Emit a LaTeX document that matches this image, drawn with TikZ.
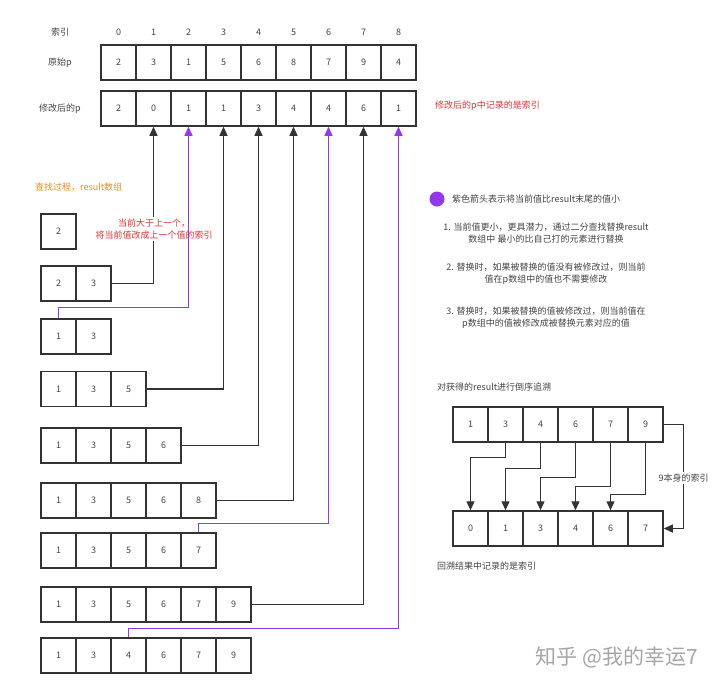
\documentclass[tikz,border=0pt]{standalone}
\usepackage{fontspec}
\setmainfont{Noto Sans CJK SC}
\usetikzlibrary{arrows.meta}
\definecolor{ink}{RGB}{51,51,51}
\definecolor{txt}{RGB}{68,68,68}
\definecolor{pur}{RGB}{150,55,240}
\definecolor{redtxt}{RGB}{222,52,52}
\definecolor{orgtxt}{RGB}{236,141,30}

\begin{document}
\begin{tikzpicture}[x=1pt,y=1pt]
\tikzstyle{every node}+=[inner sep=0pt,font=\fontsize{9}{12}\selectfont,text=txt]
\tikzstyle{cell}=[draw=ink,line width=1.5pt,minimum size=35pt]
\tikzstyle{blkline}=[draw=ink,line width=1.3pt,-{Triangle[length=9pt,width=8pt]}]
\tikzstyle{purline}=[draw=pur,line width=1.3pt,-{Triangle[length=9pt,width=8pt]}]
\useasboundingbox (0,0) rectangle (720,-691);
% row labels
\draw (60,-32) node (lidx) {索引};
\draw (60,-63) node (lorig) {原始p};
\draw (60,-108.5) node (lmod) {修改后的p};
% index
\draw (118.5,-32) node (i0) {0};
\draw (153.5,-32) node (i1) {1};
\draw (188.5,-32) node (i2) {2};
\draw (223.5,-32) node (i3) {3};
\draw (258.5,-32) node (i4) {4};
\draw (293.5,-32) node (i5) {5};
\draw (328.5,-32) node (i6) {6};
\draw (363.5,-32) node (i7) {7};
\draw (398.5,-32) node (i8) {8};
% original p
\draw (118.5,-62.5) node [cell] (o0) {2};
\draw (153.5,-62.5) node [cell] (o1) {3};
\draw (188.5,-62.5) node [cell] (o2) {1};
\draw (223.5,-62.5) node [cell] (o3) {5};
\draw (258.5,-62.5) node [cell] (o4) {6};
\draw (293.5,-62.5) node [cell] (o5) {8};
\draw (328.5,-62.5) node [cell] (o6) {7};
\draw (363.5,-62.5) node [cell] (o7) {9};
\draw (398.5,-62.5) node [cell] (o8) {4};
% modified p
\draw (118.5,-108.5) node [cell] (m0) {2};
\draw (153.5,-108.5) node [cell] (m1) {0};
\draw (188.5,-108.5) node [cell] (m2) {1};
\draw (223.5,-108.5) node [cell] (m3) {1};
\draw (258.5,-108.5) node [cell] (m4) {3};
\draw (293.5,-108.5) node [cell] (m5) {4};
\draw (328.5,-108.5) node [cell] (m6) {4};
\draw (363.5,-108.5) node [cell] (m7) {6};
\draw (398.5,-108.5) node [cell] (m8) {1};
% result rows
\draw (35,-187) node [anchor=west,text=orgtxt] (search) {查找过程，result数组};
\draw (58.5,-231.5) node [cell] (a1) {2};
\draw (58.5,-283.5) node [cell] (b1) {2};
\draw (93.5,-283.5) node [cell] (b2) {3};
\draw (58.5,-336.5) node [cell] (c1) {1};
\draw (93.5,-336.5) node [cell] (c2) {3};
\draw (58.5,-389) node [cell] (d1) {1};
\draw (93.5,-389) node [cell] (d2) {3};
\draw (128.5,-389) node [cell] (d3) {5};
\draw (58.5,-445.5) node [cell] (e1) {1};
\draw (93.5,-445.5) node [cell] (e2) {3};
\draw (128.5,-445.5) node [cell] (e3) {5};
\draw (163.5,-445.5) node [cell] (e4) {6};
\draw (58.5,-500.5) node [cell] (f1) {1};
\draw (93.5,-500.5) node [cell] (f2) {3};
\draw (128.5,-500.5) node [cell] (f3) {5};
\draw (163.5,-500.5) node [cell] (f4) {6};
\draw (198.5,-500.5) node [cell] (f5) {8};
\draw (58.5,-550.5) node [cell] (g1) {1};
\draw (93.5,-550.5) node [cell] (g2) {3};
\draw (128.5,-550.5) node [cell] (g3) {5};
\draw (163.5,-550.5) node [cell] (g4) {6};
\draw (198.5,-550.5) node [cell] (g5) {7};
\draw (58.5,-604.5) node [cell] (h1) {1};
\draw (93.5,-604.5) node [cell] (h2) {3};
\draw (128.5,-604.5) node [cell] (h3) {5};
\draw (163.5,-604.5) node [cell] (h4) {6};
\draw (198.5,-604.5) node [cell] (h5) {7};
\draw (233.5,-604.5) node [cell] (h6) {9};
\draw (58.5,-655.5) node [cell] (k1) {1};
\draw (93.5,-655.5) node [cell] (k2) {3};
\draw (128.5,-655.5) node [cell] (k3) {4};
\draw (163.5,-655.5) node [cell] (k4) {6};
\draw (198.5,-655.5) node [cell] (k5) {7};
\draw (233.5,-655.5) node [cell] (k6) {9};
% links up to modified p
\draw [blkline] (b2.east) -| (m1.south);
\draw (154,-229) node [fill=white,inner sep=2pt,text=redtxt,align=center] (note) {当前大于上一个，\\将当前值改成上一个值的索引};
\draw [purline] (c1.north) -- ++(0,11) -| (m2.south);
\draw [blkline] (d3.east) -| (m3.south);
\draw [blkline] (e4.east) -| (m4.south);
\draw [blkline] (f5.east) -| (m5.south);
\draw [purline] (g5.north) -- ++(0,9) -| (m6.south);
\draw [blkline] (h6.east) -| (m7.south);
\draw [purline] (k3.north) -- ++(0,9) -| (m8.south);
% notes on the right
\draw (435,-106) node [anchor=west,text=redtxt] (memo) {修改后的p中记录的是索引};
\draw (437,-199) node [circle,fill=pur,minimum size=15pt] (dot) {};
\draw (452,-199) node [anchor=west] (legend) {紫色箭头表示将当前值比result末尾的值小};
\draw (546,-233) node [align=center] (rule1) {1. 当前值更小，更具潜力，通过二分查找替换result\\数组中 最小的比自己打的元素进行替换};
\draw (546,-274) node [align=center] (rule2) {2. 替换时，如果被替换的值没有被修改过，则当前\\值在p数组中的值也不需要修改};
\draw (546,-318) node [align=center] (rule3) {3. 替换时，如果被替换的值被修改过，则当前值在\\p数组中的值被修改成被替换元素对应的值};
% backtrace
\draw (437,-387) node [anchor=west] (trace) {对获得的result进行倒序追溯};
\draw (470.5,-424.5) node [cell] (s1) {1};
\draw (505.5,-424.5) node [cell] (s2) {3};
\draw (540.5,-424.5) node [cell] (s3) {4};
\draw (575.5,-424.5) node [cell] (s4) {6};
\draw (610.5,-424.5) node [cell] (s5) {7};
\draw (645.5,-424.5) node [cell] (s6) {9};
\draw (470.5,-528.5) node [cell] (t1) {0};
\draw (505.5,-528.5) node [cell] (t2) {1};
\draw (540.5,-528.5) node [cell] (t3) {3};
\draw (575.5,-528.5) node [cell] (t4) {4};
\draw (610.5,-528.5) node [cell] (t5) {6};
\draw (645.5,-528.5) node [cell] (t6) {7};
\draw [blkline] (s2.south) -- ++(0,-15) -| (t1.north);
\draw [blkline] (s3.south) -- ++(0,-26) -| (t2.north);
\draw [blkline] (s4.south) -- ++(0,-35) -| (t3.north);
\draw [blkline] (s5.south) -- ++(0,-44) -| (t4.north);
\draw [blkline] (s6.south) -- ++(0,-52) -| (t5.north);
\draw [blkline] (s6.east) -- ++(20,0) |- (t6.east);
\draw (683.5,-478) node [fill=white,inner sep=2pt] (self) {9本身的索引};
\draw (437,-566) node [anchor=west] (result) {回溯结果中记录的是索引};
% watermark
\draw (617,-657) node [text=black!35,font=\fontsize{21}{21}\selectfont] (wmark) {知乎 @我的幸运7};
\end{tikzpicture}
\end{document}
